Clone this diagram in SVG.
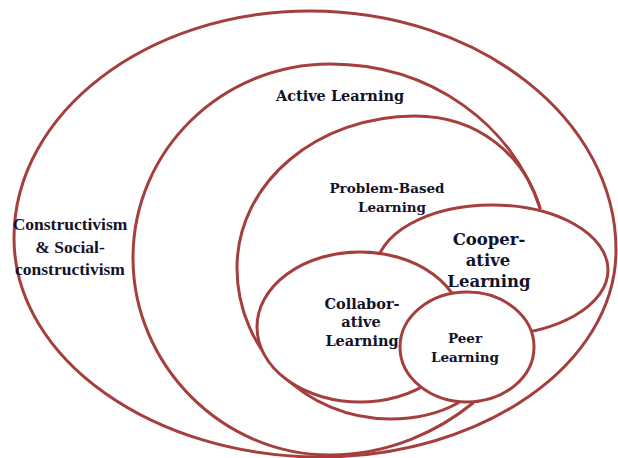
<svg xmlns="http://www.w3.org/2000/svg" width="618" height="458" viewBox="0 0 618 458">
  <style>
    .ring { fill: none; stroke: #a53f3d; stroke-width: 3; stroke-linejoin: round; stroke-linecap: round; }
    .disc { fill: #ffffff; stroke: #a53f3d; stroke-width: 3; }
    .lbl { font-family: "DejaVu Serif", "Liberation Serif", serif; font-weight: bold; fill: #12122a; text-anchor: middle; }
    .tnr { font-family: "Liberation Serif", "Times New Roman", serif; font-weight: bold; fill: #12122a; text-anchor: middle; }
  </style>
  <rect width="618" height="458" fill="#ffffff"/>

  <!-- Outermost set -->
  <g id="constructivism">
    <path class="ring" d="M14,238 C14,113 147,11 310,11 C479,11 616,119 616,250 C616,364 483,457 320,457 C155,457 14,360 14,238 Z"/>
    <text class="tnr" font-size="17.5" x="70" y="230">Constructivism</text>
    <text class="tnr" font-size="17.5" x="70" y="253">&amp; Social-</text>
    <text class="tnr" font-size="17.5" x="70" y="275">constructivism</text>
  </g>

  <!-- Active learning: open curve meeting the inner sets -->
  <g id="active-learning">
    <path class="ring" d="M473,403 C440,430 390,455 330,455 C222,455 133,365 133,258 C133,150 222,64 330,64 C432,64 512,125 540,208"/>
    <text class="lbl" font-size="14.5" x="340" y="101">Active Learning</text>
  </g>

  <!-- Problem-based learning -->
  <g id="problem-based-learning">
    <path class="ring" d="M458,403 C440,413 420,419 390,419 C305,419 237,350 237,268 C237,182 318,116 415,116 C478,116 524,155 540,208"/>
    <text class="lbl" font-size="13.5" x="387" y="193">Problem-Based</text>
    <text class="lbl" font-size="13.5" x="392" y="212">Learning</text>
  </g>

  <!-- Cooperative learning -->
  <g id="cooperative-learning">
    <ellipse class="disc" cx="492" cy="270" rx="116" ry="65"/>
    <text class="lbl" font-size="16.5" x="489" y="245">Cooper-</text>
    <text class="lbl" font-size="16.5" x="488" y="266">ative</text>
    <text class="lbl" font-size="16.5" x="489" y="287">Learning</text>
  </g>

  <!-- Collaborative learning -->
  <g id="collaborative-learning">
    <ellipse class="disc" cx="360" cy="327" rx="103" ry="75"/>
    <text class="lbl" font-size="14.5" x="362" y="309">Collabor-</text>
    <text class="lbl" font-size="14.5" x="361" y="327">ative</text>
    <text class="lbl" font-size="14.5" x="362" y="346">Learning</text>
  </g>

  <!-- Peer learning -->
  <g id="peer-learning">
    <ellipse class="disc" cx="467" cy="347" rx="67" ry="55"/>
    <text class="lbl" font-size="13.5" x="465" y="343">Peer</text>
    <text class="lbl" font-size="13.5" x="465" y="362">Learning</text>
  </g>
</svg>
